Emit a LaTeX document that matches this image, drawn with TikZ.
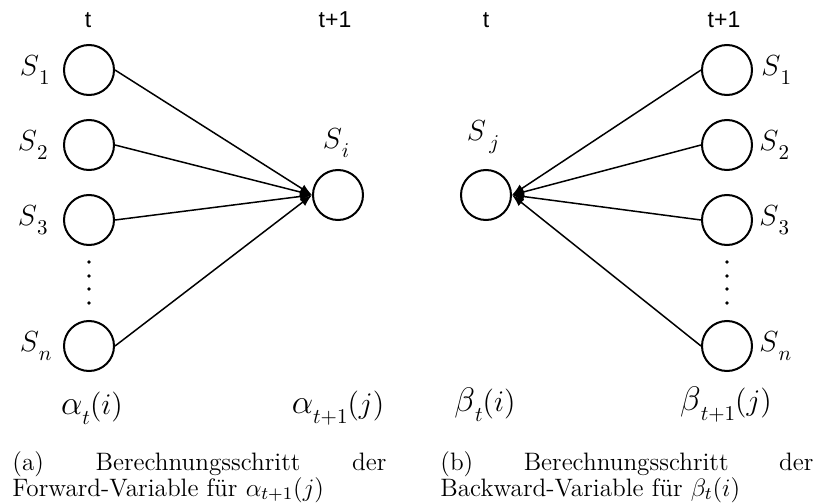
\RequirePackage{fix-cm}
\documentclass[tikz,border=0pt]{standalone}
\usepackage{fontspec}
\usetikzlibrary{arrows.meta}
\newfontfamily\arl{Liberation Sans}
\newcommand\Sl[2]{{\fontsize{14.5}{15}\selectfont$S$}\raisebox{-4.5pt}{\fontsize{10.5}{11}\selectfont$#2$}}
\newcommand\Vl[3]{{\fontsize{17}{18}\selectfont$#1$}\raisebox{-5pt}{\fontsize{10.5}{11}\selectfont$#2$}{\fontsize{15}{16}\selectfont$(#3)$}}
\begin{document}
\begin{tikzpicture}[x=0.5pt,y=-0.5pt,
  state/.style={circle,draw,line width=1pt,minimum size=25pt,inner sep=0pt},
  arr/.style={line width=0.75pt,-{Latex[length=6pt,width=4.5pt]}},
  tlab/.style={font=\arl\fontsize{11.5}{12}\selectfont,inner sep=0pt},
  slab/.style={inner sep=0pt},
  captxt/.style={font=\fontsize{12.6}{14}\selectfont,inner sep=0pt,anchor=base west}]
\useasboundingbox (0,0) rectangle (816,504);
% left panel
\node[state] (s1) at (89,70) {};
\node[state] (s2) at (89,145) {};
\node[state] (s3) at (89,220) {};
\node[state] (sn) at (89,346) {};
\node[state] (si) at (338,195) {};
\foreach \n in {s1,s2,s3,sn} \draw[arr] (\n.east) -- (si.west);
\foreach \yy in {262,276,289,303} \fill (89,\yy) circle (0.9pt);
\node[slab,anchor=east] (l1) at ([xshift=-6.5pt]s1.west) {\Sl{S}{1}};
\node[slab,anchor=east] (l2) at ([xshift=-7.5pt]s2.west) {\Sl{S}{2}};
\node[slab,anchor=east] (l3) at ([xshift=-7.5pt]s3.west) {\Sl{S}{3}};
\node[slab,anchor=east] (ln) at ([xshift=-5.5pt]sn.west) {\Sl{S}{n}};
\node[slab] (li) at (336,143) {\Sl{S}{i}};
\node[tlab] (ta) at (88,20) {t};
\node[tlab] (tb) at (335,20) {t+1};
\node[slab] (aa) at (92,408) {\Vl{\alpha}{t}{i}};
\node[slab] (ab) at (338,408) {\Vl{\alpha}{t{+}1}{j}};
\node[captxt] (ca1) at (12,470) {\makebox[187pt][s]{(a)\hfill Berechnungsschritt\hfill der}};
\node[captxt] (ca2) at (12,496) {Forward-Variable für $\alpha_{t+1}(j)$};
% right panel
\node[state] (r1) at (727,70) {};
\node[state] (r2) at (727,145) {};
\node[state] (r3) at (727,220) {};
\node[state] (rn) at (727,346) {};
\node[state] (sj) at (486,195) {};
\foreach \n in {r1,r2,r3,rn} \draw[arr] (\n.west) -- (sj.east);
\foreach \yy in {262,276,289,303} \fill (727,\yy) circle (0.9pt);
\node[slab,anchor=west] (m1) at ([xshift=4pt]r1.east) {\Sl{S}{1}};
\node[slab,anchor=west] (m2) at ([xshift=3pt]r2.east) {\Sl{S}{2}};
\node[slab,anchor=west] (m3) at ([xshift=3pt]r3.east) {\Sl{S}{3}};
\node[slab,anchor=west] (mn) at ([xshift=3pt]rn.east) {\Sl{S}{n}};
\node[slab] (lj) at (483,137) {\Sl{S}{\,j}};
\node[tlab] (tc) at (486,20) {t};
\node[tlab] (td) at (724,20) {t+1};
\node[slab] (ba) at (485,405) {\Vl{\beta}{t}{i}};
\node[slab] (bb) at (726,405) {\Vl{\beta}{t{+}1}{j}};
\node[captxt] (cb1) at (440,470) {\makebox[186.5pt][s]{(b)\hfill Berechnungsschritt\hfill der}};
\node[captxt] (cb2) at (440,496) {Backward-Variable für $\beta_t(i)$};
\end{tikzpicture}
\end{document}
